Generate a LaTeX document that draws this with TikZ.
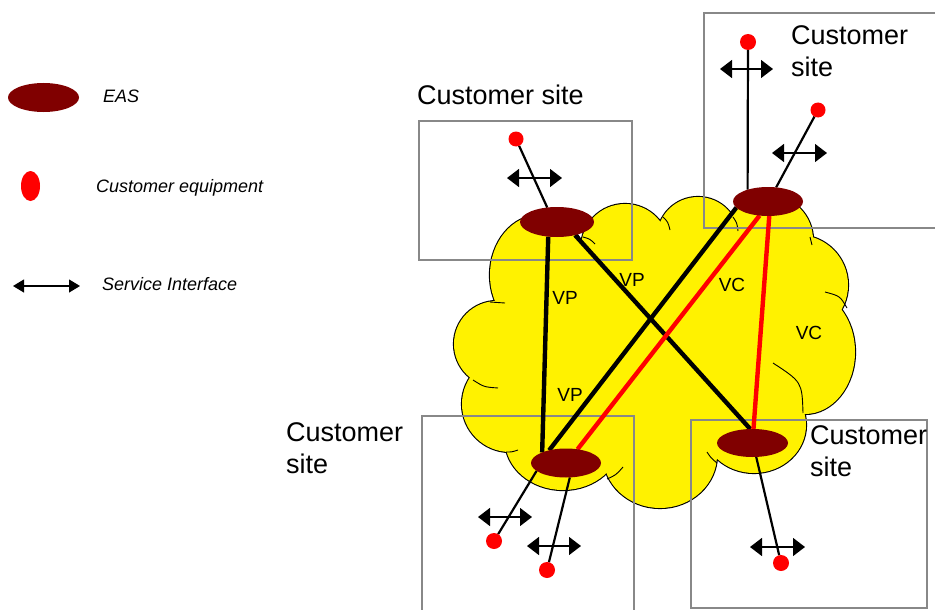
\documentclass[tikz,border=0pt]{standalone}
\usepackage{fontspec}
\setmainfont{Liberation Sans}
\usetikzlibrary{arrows.meta,shapes.geometric}
\definecolor{easred}{RGB}{128,0,0}
\definecolor{boxgray}{RGB}{136,136,136}
\pgfdeclarelayer{base}
\pgfdeclarelayer{wires}
\pgfsetlayers{base,wires,main}

\begin{document}
\begin{tikzpicture}[x=1pt,y=-1pt,
  eas/.style={ellipse,fill=easred,inner sep=0pt,outer sep=0pt,minimum width=70pt,minimum height=29pt},
  ce/.style={circle,fill=red,inner sep=0pt,outer sep=0pt,minimum size=16pt},
  site/.style={draw=boxgray,line width=1.9pt},
  sitelabel/.style={font=\fontsize{27}{32}\selectfont,align=left,inner sep=0pt},
  keylabel/.style={font=\fontsize{18}{21}\selectfont\itshape,anchor=base west,inner sep=0pt},
  linklabel/.style={font=\fontsize{19}{22}\selectfont,inner sep=0pt},
  vp/.style={line width=4.4pt},
  vc/.style={line width=4.4pt,red},
  tail/.style={line width=2.2pt},
  svc/.style={line width=1.4pt,{Triangle[length=12pt,width=18pt]}-{Triangle[length=12pt,width=18pt]}},
  keysvc/.style={line width=1.2pt,{Triangle[length=11pt,width=13pt]}-{Triangle[length=11pt,width=13pt]}}]
\clip (0,0) rectangle (935,610);

\begin{pgfonlayer}{base}
% cloud: rims of all puffs first, then the fill hides the inner parts
\foreach \x/\y/\a/\b in {497/344/43/43, 510/404/48/48, 563/440/58/50, 660/455/57/53,
    754/425/52/48, 805/352/50/62, 798/285/50/50, 768/240/45/45, 698/238/41/41,
    625/248/44/44, 540/275/50/60, 655/350/160/110}
  \draw[line width=2.2pt] (\x,\y) ellipse [x radius=\a pt, y radius=\b pt];
\foreach \x/\y/\a/\b in {497/344/43/43, 510/404/48/48, 563/440/58/50, 660/455/57/53,
    754/425/52/48, 805/352/50/62, 798/285/50/50, 768/240/45/45, 698/238/41/41,
    625/248/44/44, 540/275/50/60, 655/350/160/110}
  \fill[yellow] (\x,\y) ellipse [x radius=\a pt, y radius=\b pt];
% small folds inside the cloud
\draw[line width=0.9pt] (473,380) .. controls (484,387) .. (498,388);
\draw[line width=0.9pt] (506,452) .. controls (512,452) .. (518,450);
\draw[line width=0.9pt] (607,479) .. controls (616,475) .. (623,467);
\draw[line width=0.9pt] (707,452) .. controls (711,458) .. (717,463);
\draw[line width=0.9pt] (773,363) .. controls (802,382) .. (803,413);
\draw[line width=0.9pt] (825,292) .. controls (840,296) .. (847,308);
\draw[line width=0.9pt] (810,237) .. controls (811,241) .. (812,245);
\draw[line width=0.9pt] (733,217) .. controls (737,223) .. (738,231);
\draw[line width=0.9pt] (663,217) .. controls (668,222) .. (670,230);
\draw[line width=0.9pt] (583,237) .. controls (590,239) .. (595,244);
\draw[line width=0.9pt] (490,302) .. controls (498,302) .. (505,303);

% customer sites
\draw[site] (419,121) rectangle (632,260);
\draw[site] (704,13) rectangle (945,228);
\draw[site] (422,416) rectangle (634,625);
\draw[site] (691,420) rectangle (927,608);
\end{pgfonlayer}

% EAS
\node[eas,minimum width=74pt,minimum height=30pt] (eTL) at (557,222) {};
\node[eas] (eTR) at (768,201.5) {};
\node[eas] (eBL) at (566,463) {};
\node[eas,minimum width=71pt,minimum height=28pt] (eBR) at (752.5,443) {};

% customer equipment
\node[ce,minimum size=15pt] (cTL) at (516,139) {};
\node[ce] (cTR1) at (748,42) {};
\node[ce,minimum size=15pt] (cTR2) at (818,110) {};
\node[ce] (cBL1) at (494,541) {};
\node[ce] (cBL2) at (547,570) {};
\node[ce] (cBR) at (781,563) {};

\begin{pgfonlayer}{wires}
\draw[vp] (eTL.239) -- (eBL.156);
\draw[vp] (eTL.-36) -- (eBR.99);
\draw[vp] (eTR.191) -- (eBL.143);
\draw[vc] (eTR.239) -- (eBL.50);
\draw[vc] (eTR.275) -- (eBR.86);
\draw[tail] (cTL) -- (eTL.124);
\draw[tail] (cTR1) -- (eTR.150);
\draw[tail] (cTR2) -- (eTR.60);
\draw[tail] (eBL.195) -- (cBL1);
\draw[tail] (eBL.285) -- (cBL2);
\draw[tail] (eBR.285) -- (cBR);
\end{pgfonlayer}

% service interfaces
\draw[svc] (507,178) -- (562,178);
\draw[svc] (720,69) -- (773,69);
\draw[svc] (772,153) -- (827,153);
\draw[svc] (478,517) -- (532,517);
\draw[svc] (527,546) -- (581,546);
\draw[svc] (750,547) -- (805,547);

\node[linklabel] (vpA) at (565,298) {VP};
\node[linklabel] (vpB) at (632,280) {VP};
\node[linklabel] (vpC) at (570,395) {VP};
\node[linklabel] (vcA) at (732,285) {VC};
\node[linklabel] (vcB) at (809,333) {VC};

\node[sitelabel,anchor=base west] (sTL) at (417,104.5) {Customer site};
\node[sitelabel,anchor=west] (sTR) at (791,51.5) {Customer\\site};
\node[sitelabel,anchor=west] (sBL) at (286,448.5) {Customer\\site};
\node[sitelabel,anchor=west] (sBR) at (810,451.5) {Customer\\site};

% legend
\node[eas,minimum width=71pt] (keyEAS) at (43.5,97.5) {};
\node[keylabel] (keyEAStext) at (103,102.3) {EAS};
\node[ce,ellipse,minimum width=19pt,minimum height=30pt] (keyCE) at (30.5,186) {};
\node[keylabel] (keyCEtext) at (96,192.3) {Customer equipment};
\draw[keysvc] (13,286) -- (80,286);
\node[keylabel] (keySItext) at (102,290) {Service Interface};
\end{tikzpicture}
\end{document}
